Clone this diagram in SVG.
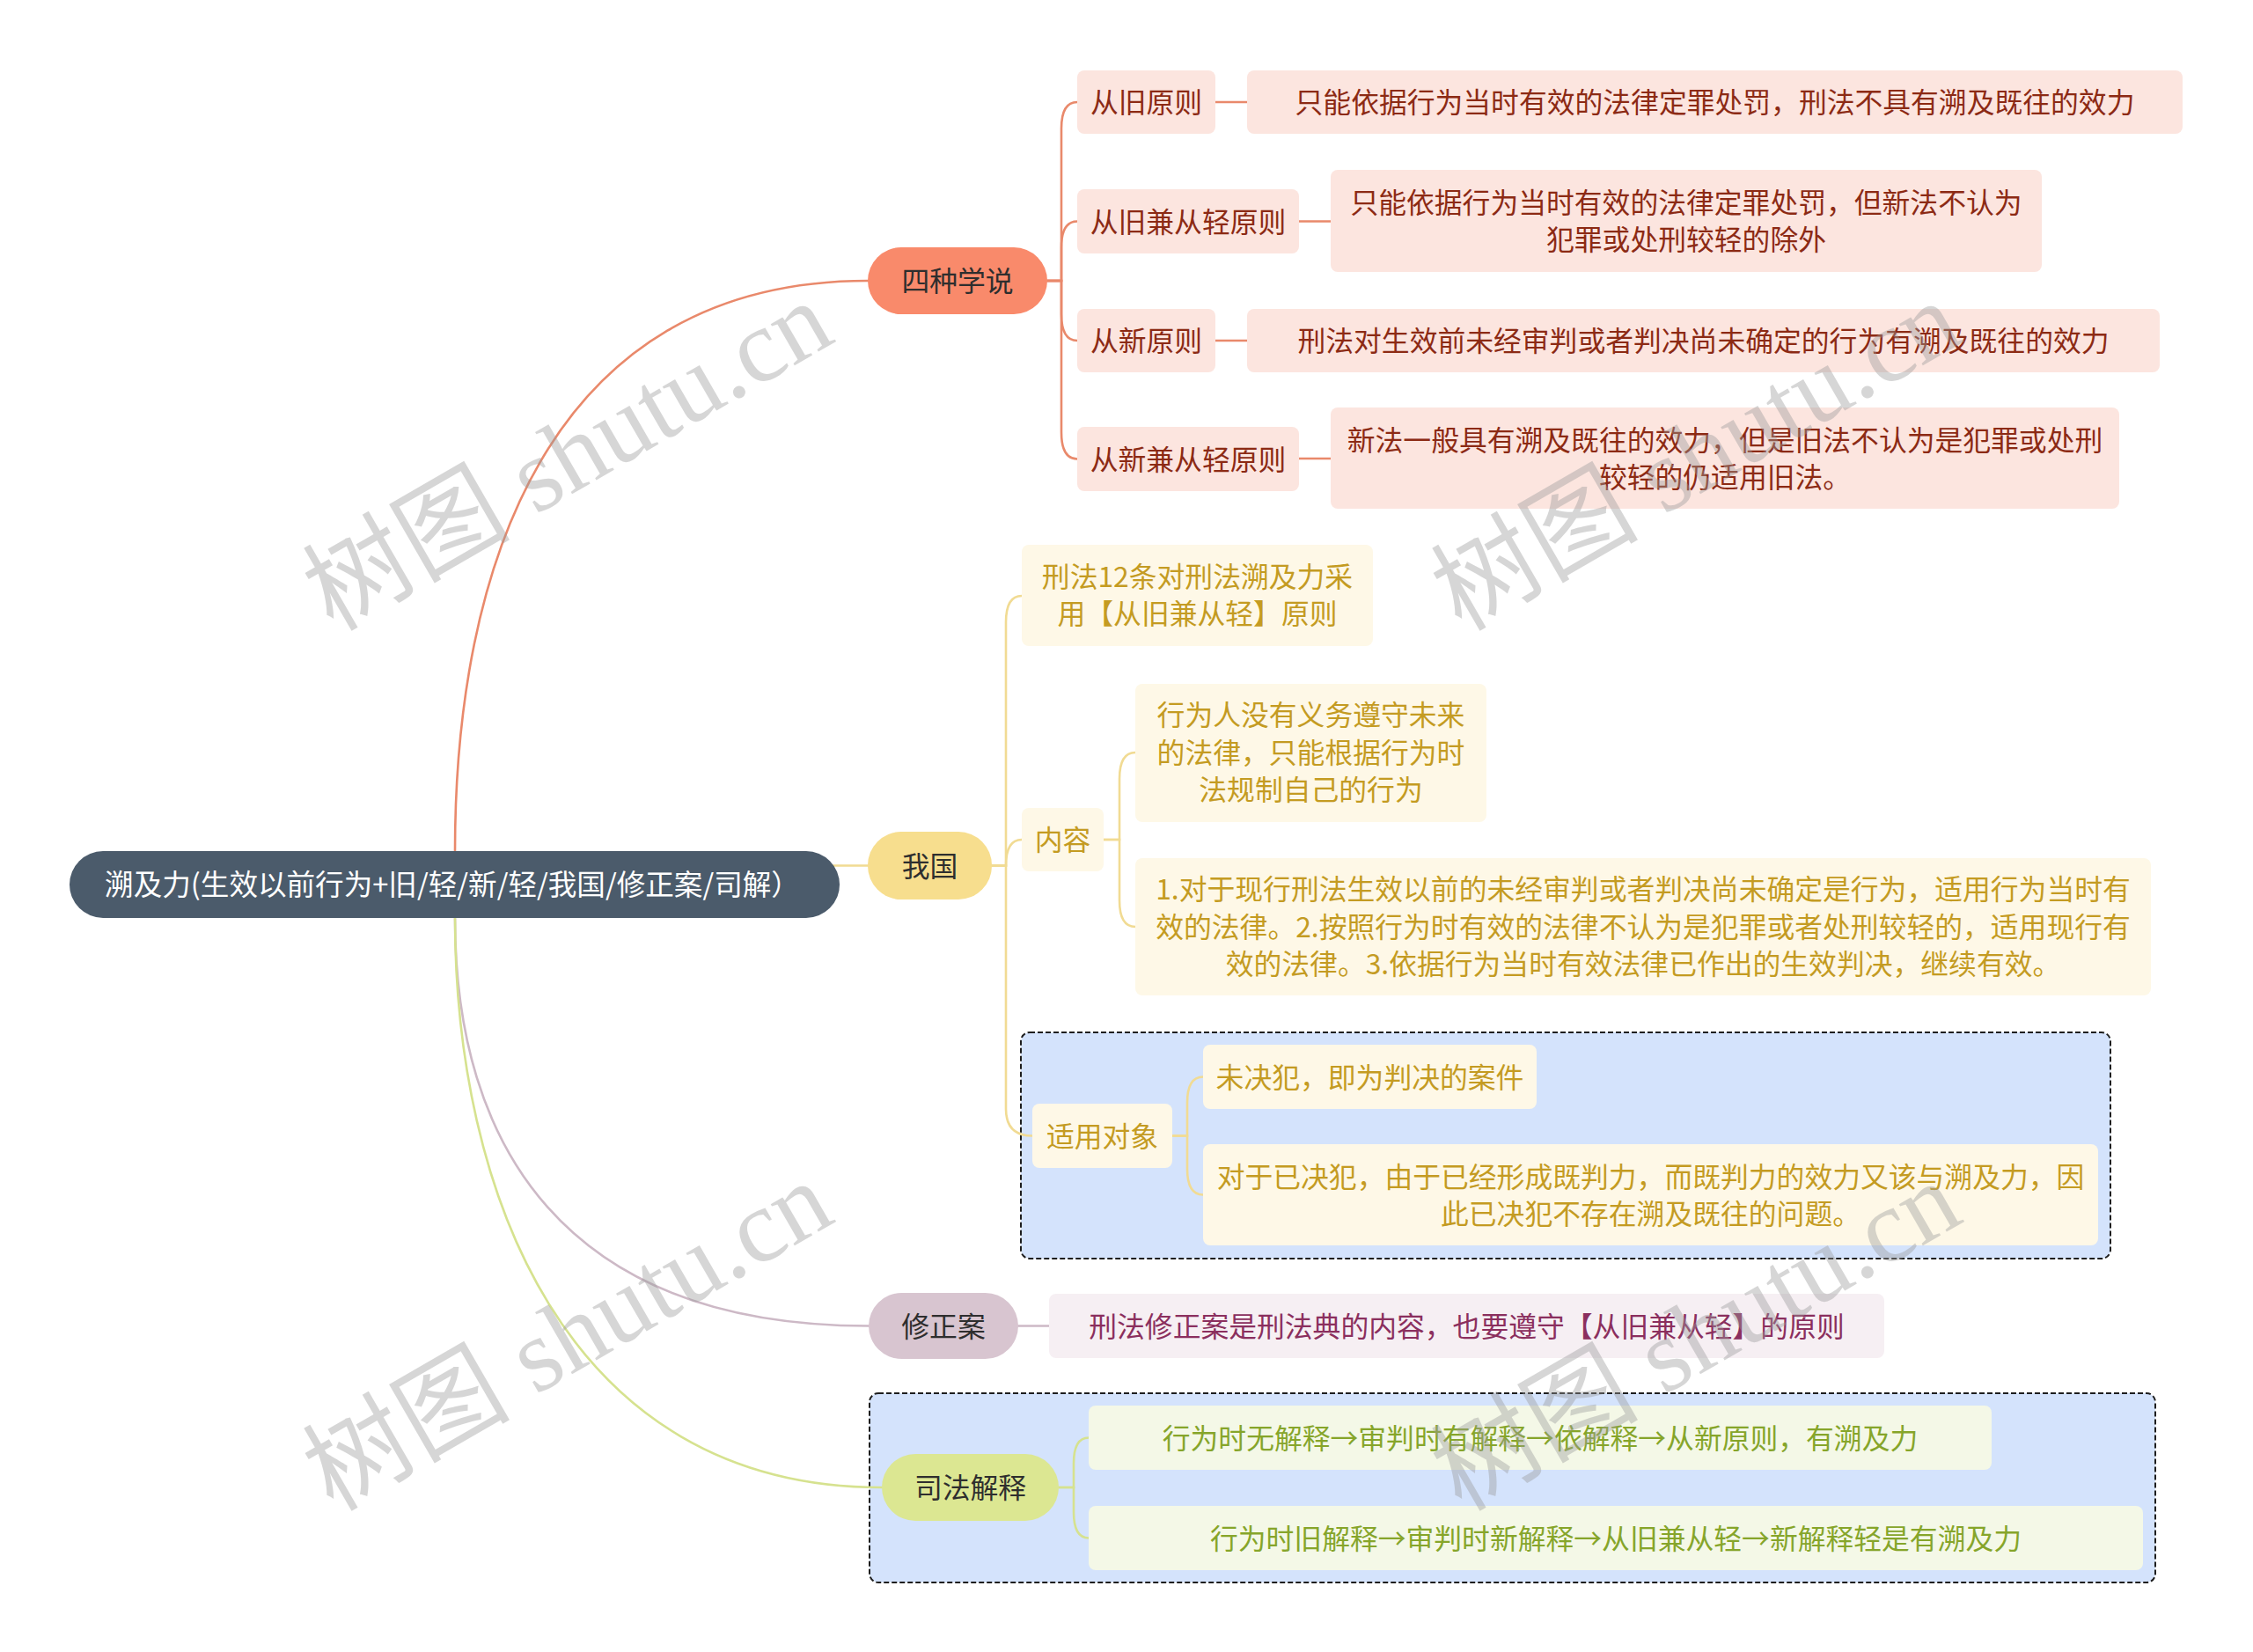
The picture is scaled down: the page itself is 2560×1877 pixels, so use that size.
<svg xmlns="http://www.w3.org/2000/svg" width="2560" height="1877" viewBox="0 0 2560 1877">
<style>
text{font-family:"Noto Sans CJK SC","Liberation Sans",sans-serif;font-size:31.8px;text-anchor:middle}
.c{fill:none;stroke-width:2.6;stroke-linecap:round}
.cr{stroke:#E9896B}.cy{stroke:#F1DB93}.cm{stroke:#CDB9C6}.cg{stroke:#D6E28F}
.pk rect{fill:#FCE5DF}.pk text{fill:#8C2A14}
.ye rect{fill:#FEF8E7}.ye text{fill:#C49B22}
.mv rect{fill:#F6EFF3}.mv text{fill:#8B2F5E}
.gr rect{fill:#F4F8E7}.gr text{fill:#86A52A}
.dk{fill:#2E2E2E}
.grp{fill:#D4E3FC;stroke:#1E1E1E;stroke-width:2;stroke-dasharray:6 3}
.wm text{font-family:"Liberation Serif","Noto Sans CJK SC",serif;font-size:118px;fill:#9A9A9A;opacity:0.4}
</style>
<rect width="2560" height="1877" fill="#FFFFFF"/>
<g id="groups">
<rect class="grp" x="1160" y="1173" width="1238" height="257" rx="10"/>
<rect class="grp" x="988" y="1583" width="1461" height="215" rx="10"/>
</g>
<g id="connectors">
<path class="c cr" d="M517 967 C517 650 620 319 986 319"/>
<path class="c cy" d="M946 983.5 H986"/>
<path class="c cm" d="M517 1043 C517 1300 640 1506.5 987 1506.5"/>
<path class="c cg" d="M517 1043 C517 1350 640 1690 1002 1690"/>
<path class="c cr" d="M1190 319 H1206 V146 Q1206 116 1224 116"/>
<path class="c cr" d="M1190 319 H1206 V281 Q1206 251.5 1224 251.5"/>
<path class="c cr" d="M1190 319 H1206 V357 Q1206 387 1224 387"/>
<path class="c cr" d="M1190 319 H1206 V491 Q1206 521.5 1224 521.5"/>
<path class="c cr" d="M1381 116 H1417 M1476 251.5 H1512 M1381 387 H1417 M1476 521 H1512" stroke-width="3"/>
<path class="c cy" d="M1127 983.5 H1143 V707 Q1143 677 1161 677"/>
<path class="c cy" d="M1127 983.5 H1143 Q1143 954 1161 954"/>
<path class="c cy" d="M1127 983.5 H1143 V1260 Q1143 1290.5 1173 1290.5"/>
<path class="c cy" d="M1254 954 H1272 V885 Q1272 855 1290 855"/>
<path class="c cy" d="M1254 954 H1272 V1023 Q1272 1053 1290 1053"/>
<path class="c cy" d="M1332 1290.5 H1349 V1253 Q1349 1223.5 1367 1223.5"/>
<path class="c cy" d="M1332 1290.5 H1349 V1328 Q1349 1357.5 1367 1357.5"/>
<path class="c cm" d="M1157 1506.5 H1192" stroke-width="3"/>
<path class="c cg" d="M1203 1690 H1220 V1663 Q1220 1633.5 1237 1633.5"/>
<path class="c cg" d="M1203 1690 H1220 V1718 Q1220 1747.5 1237 1747.5"/>
</g>
<g id="root"><rect x="79" y="967" width="875" height="76" rx="38" fill="#4B5B6B"/><text x="514" y="1017" fill="#FFFFFF" style="font-size:32.6px">溯及力(生效以前行为+旧/轻/新/轻/我国/修正案/司解）</text></g>
<g id="n-sizhong"><rect x="986" y="281" width="204" height="76" rx="38" fill="#F98A6B"/><text class="dk" x="1088" y="331">四种学说</text></g>
<g id="n-woguo"><rect x="986" y="945" width="141" height="77" rx="38" fill="#F7DE8E"/><text class="dk" x="1056.5" y="995.5">我国</text></g>
<g id="n-xiuzheng"><rect x="987" y="1469" width="170" height="75" rx="37.5" fill="#D8C5D0"/><text class="dk" x="1072" y="1518.5">修正案</text></g>
<g id="n-sifa"><rect x="1002" y="1652" width="201" height="76" rx="38" fill="#DCE792"/><text class="dk" x="1102.5" y="1702">司法解释</text></g>
<g id="n-congjiu" class="pk"><rect x="1224" y="80" width="157" height="72" rx="8"/><text x="1302.5" y="128">从旧原则</text></g>
<g id="n-congjiu-d" class="pk"><rect x="1417" y="80" width="1063" height="72" rx="8"/><text x="1948.5" y="128">只能依据行为当时有效的法律定罪处罚，刑法不具有溯及既往的效力</text></g>
<g id="n-congjiuqing" class="pk"><rect x="1224" y="215" width="252" height="73" rx="8"/><text x="1350" y="263.5">从旧兼从轻原则</text></g>
<g id="n-congjiuqing-d" class="pk"><rect x="1512" y="193" width="808" height="116" rx="8"/><text x="1916" y="242">只能依据行为当时有效的法律定罪处罚，但新法不认为</text><text x="1916" y="284">犯罪或处刑较轻的除外</text></g>
<g id="n-congxin" class="pk"><rect x="1224" y="351" width="157" height="72" rx="8"/><text x="1302.5" y="399">从新原则</text></g>
<g id="n-congxin-d" class="pk"><rect x="1417" y="351" width="1037" height="72" rx="8"/><text x="1935.5" y="399">刑法对生效前未经审判或者判决尚未确定的行为有溯及既往的效力</text></g>
<g id="n-congxinqing" class="pk"><rect x="1224" y="485" width="252" height="73" rx="8"/><text x="1350" y="533.5">从新兼从轻原则</text></g>
<g id="n-congxinqing-d" class="pk"><rect x="1512" y="463" width="896" height="115" rx="8"/><text x="1960" y="511.5">新法一般具有溯及既往的效力，但是旧法不认为是犯罪或处刑</text><text x="1960" y="553.5">较轻的仍适用旧法。</text></g>
<g id="n-xingfa12" class="ye"><rect x="1161" y="619" width="399" height="115" rx="8"/><text x="1360.5" y="667">刑法12条对刑法溯及力采</text><text x="1360.5" y="709">用【从旧兼从轻】原则</text></g>
<g id="n-neirong" class="ye"><rect x="1161" y="918" width="93" height="72" rx="8"/><text x="1207.5" y="966">内容</text></g>
<g id="n-xingweiren" class="ye"><rect x="1290" y="777" width="399" height="157" rx="8"/><text x="1489.5" y="824">行为人没有义务遵守未来</text><text x="1489.5" y="866.5">的法律，只能根据行为时</text><text x="1489.5" y="909">法规制自己的行为</text></g>
<g id="n-sandian" class="ye"><rect x="1290" y="975" width="1154" height="156" rx="8"/><text x="1867" y="1022">1.对于现行刑法生效以前的未经审判或者判决尚未确定是行为，适用行为当时有</text><text x="1867" y="1064.5">效的法律。2.按照行为时有效的法律不认为是犯罪或者处刑较轻的，适用现行有</text><text x="1867" y="1107">效的法律。3.依据行为当时有效法律已作出的生效判决，继续有效。</text></g>
<g id="n-shiyong" class="ye"><rect x="1173" y="1254" width="159" height="73" rx="8"/><text x="1252.5" y="1302.5">适用对象</text></g>
<g id="n-weijue" class="ye"><rect x="1367" y="1187" width="379" height="73" rx="8"/><text x="1556.5" y="1235.5">未决犯，即为判决的案件</text></g>
<g id="n-yijue" class="ye"><rect x="1367" y="1300" width="1017" height="115" rx="8"/><text x="1875.5" y="1348.5">对于已决犯，由于已经形成既判力，而既判力的效力又该与溯及力，因</text><text x="1875.5" y="1390.5">此已决犯不存在溯及既往的问题。</text></g>
<g id="n-xiuzheng-d" class="mv"><rect x="1192" y="1470" width="949" height="73" rx="8"/><text x="1666.5" y="1518.5">刑法修正案是刑法典的内容，也要遵守【从旧兼从轻】的原则</text></g>
<g id="n-sifa1" class="gr"><rect x="1237" y="1597" width="1026" height="73" rx="8"/><text x="1750" y="1645.5">行为时无解释→审判时有解释→依解释→从新原则，有溯及力</text></g>
<g id="n-sifa2" class="gr"><rect x="1237" y="1711" width="1198" height="73" rx="8"/><text x="1836" y="1759.5">行为时旧解释→审判时新解释→从旧兼从轻→新解释轻是有溯及力</text></g>
<g class="wm">
<text transform="translate(645 518) rotate(-30)" y="40">树图 shutu.cn</text>
<text transform="translate(1927 518) rotate(-30)" y="40">树图 shutu.cn</text>
<text transform="translate(645 1518) rotate(-30)" y="40">树图 shutu.cn</text>
<text transform="translate(1927 1518) rotate(-30)" y="40">树图 shutu.cn</text>
</g>
</svg>
